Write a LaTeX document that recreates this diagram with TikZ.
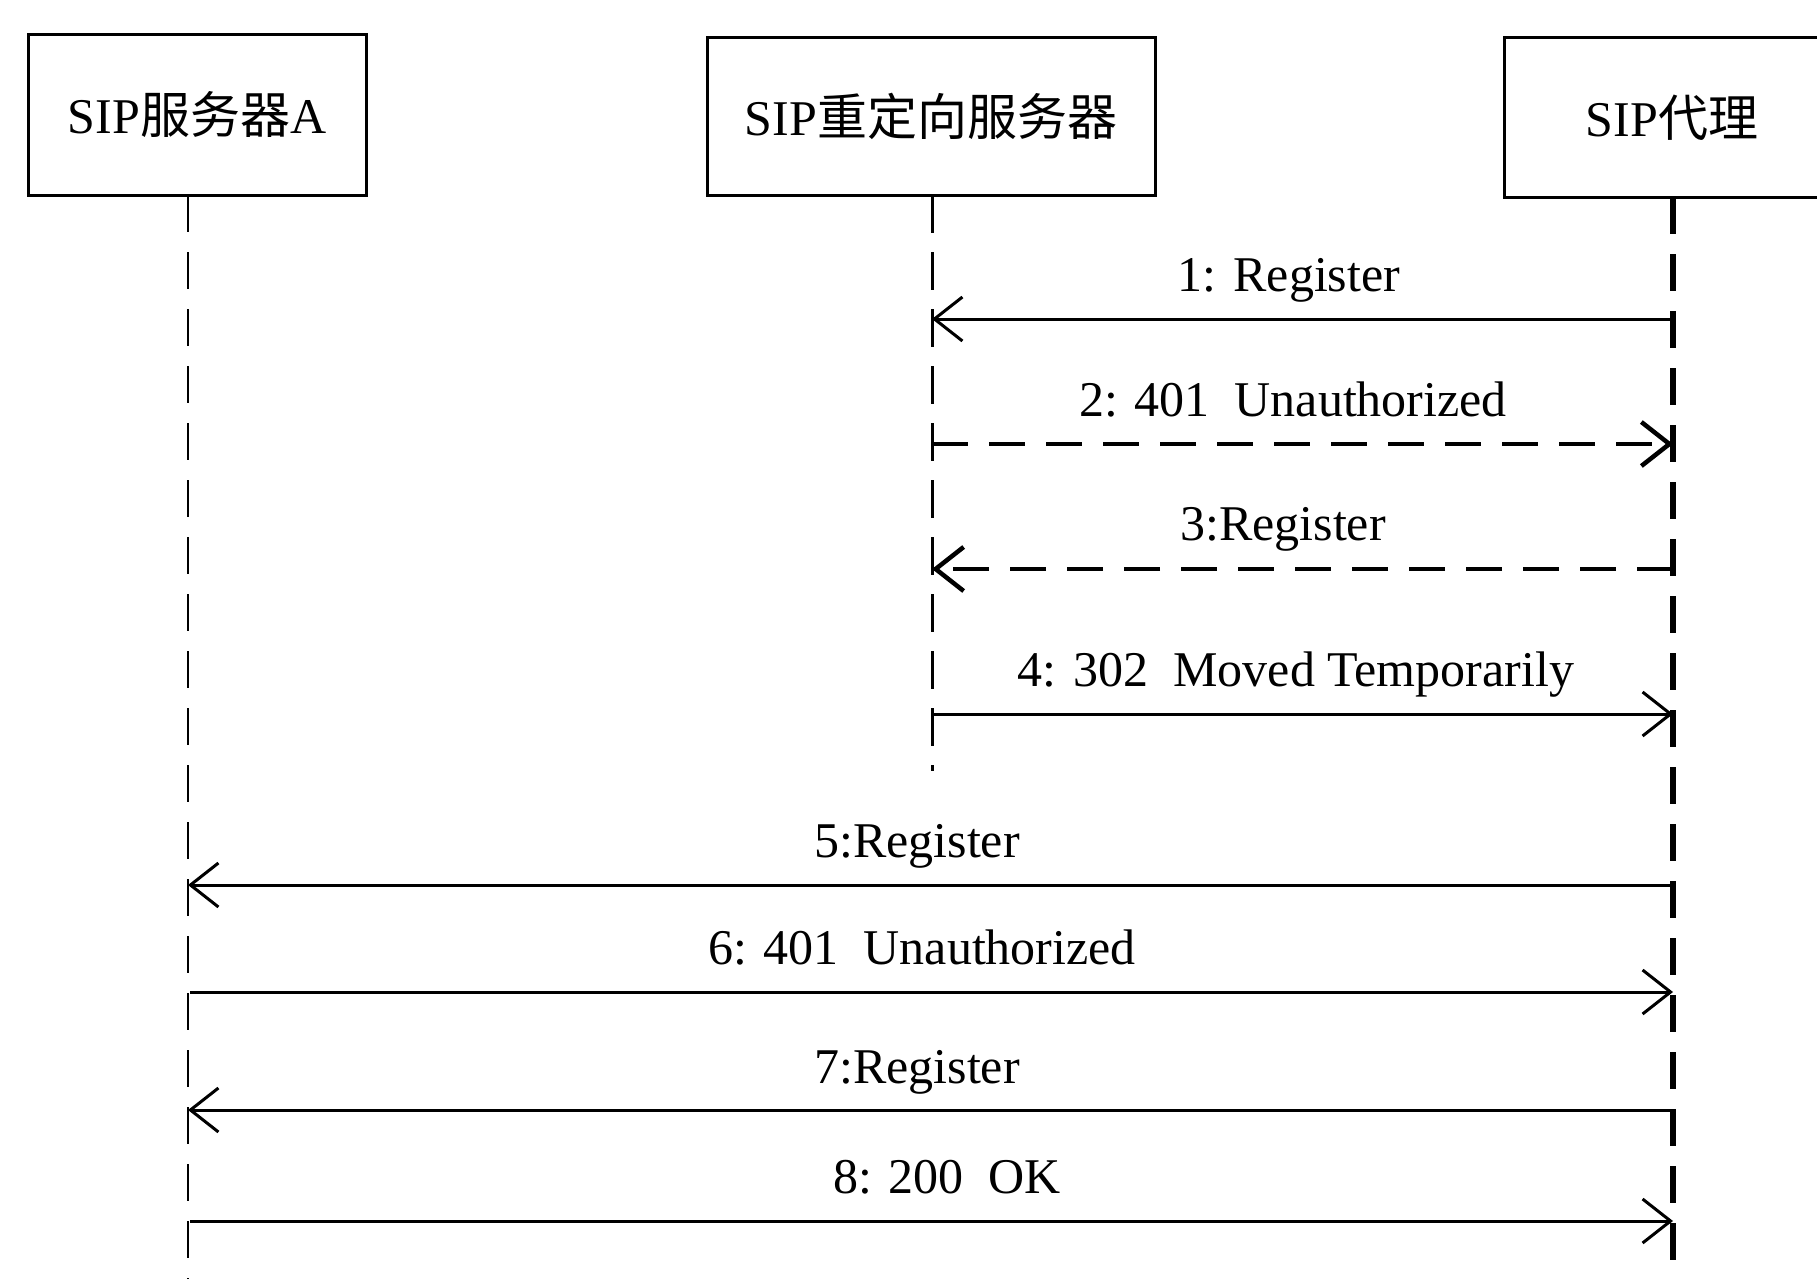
\documentclass[tikz,border=0pt]{standalone}
\usepackage{fontspec}
\setmainfont{Liberation Serif}
\newfontfamily\cjk{Noto Sans CJK SC}
\usetikzlibrary{arrows.meta}
\begin{document}
\begin{tikzpicture}[x=1pt,y=-1pt,
  box/.style={draw,line width=3pt,inner sep=0pt,font=\fontsize{50}{60}\selectfont},
  lbl/.style={anchor=base,inner sep=0pt,font=\fontsize{50}{60}\selectfont},
  tip/.style={-{Straight Barb[length=28pt,width=44pt]}},
  msg/.style={line width=3pt,tip},
  dmsg/.style={line width=4.5pt,dash pattern=on 36pt off 21pt,tip},
  lifeA/.style={line width=2.5pt,dash pattern=on 37pt off 20pt},
  lifeR/.style={line width=3pt,dash pattern=on 38pt off 19pt},
  lifeP/.style={line width=5.5pt,dash pattern=on 37pt off 20pt}
]
\useasboundingbox (0,0) rectangle (1817,1279);
\clip (0,0) rectangle (1817,1279);

% participants
\node[box,minimum width=338pt,minimum height=160pt] (A) at (197,115) {SIP{\cjk 服务器}A};
\node[box,minimum width=448pt,minimum height=157pt] (R) at (931,116.5) {SIP{\cjk 重定向服务器}};
\node[box,minimum width=336pt,minimum height=159pt] (P) at (1672,117.5) {SIP{\cjk 代理}};

% lifelines
\coordinate (Atop) at (188,195);
\coordinate (Abot) at (188,1285);
\coordinate (Rtop) at (932,195);
\coordinate (Rbot) at (932,771);
\coordinate (Ptop) at (1673,197);
\coordinate (Pbot) at (1673,1285);
\draw[lifeA] (Atop) -- (Abot);
\draw[lifeR] (Rtop) -- (Rbot);
\draw[lifeP] (Ptop) -- (Pbot);

% message end points
\coordinate (p1) at (1673,319);  \coordinate (r1) at (932,319);
\coordinate (r2) at (932,444);  \coordinate (p2) at (1673,444);
\coordinate (p3) at (1673,569);  \coordinate (r3) at (932,569);
\coordinate (r4) at (932,714);  \coordinate (p4) at (1673,714);
\coordinate (p5) at (1673,885);  \coordinate (a5) at (188,885);
\coordinate (a6) at (190,992);  \coordinate (p6) at (1673,992);
\coordinate (p7) at (1673,1110); \coordinate (a7) at (188,1110);
\coordinate (a8) at (190,1221); \coordinate (p8) at (1673,1221);

\draw[msg] (p1) -- (r1);
\draw[dmsg] (r2) -- (p2);
\draw[dmsg] (p3) -- (r3);
\draw[msg] (r4) -- (p4);
\draw[msg] (p5) -- (a5);
\draw[msg] (a6) -- (p6);
\draw[msg] (p7) -- (a7);
\draw[msg] (a8) -- (p8);

% labels
\node[lbl] (l1) at (1289,291) {1: Register};
\node[lbl] (l2) at (1293,416) {2: 401\ \ Unauthorized};
\node[lbl] (l3) at (1283,540) {3:Register};
\node[lbl] (l4) at (1296,686) {4: 302\ \ Moved Temporarily};
\node[lbl] (l5) at (917,857) {5:Register};
\node[lbl] (l6) at (922,964) {6: 401\ \ Unauthorized};
\node[lbl] (l7) at (917,1083) {7:Register};
\node[lbl] (l8) at (947,1193) {8: 200\ \ OK};
\end{tikzpicture}
\end{document}
